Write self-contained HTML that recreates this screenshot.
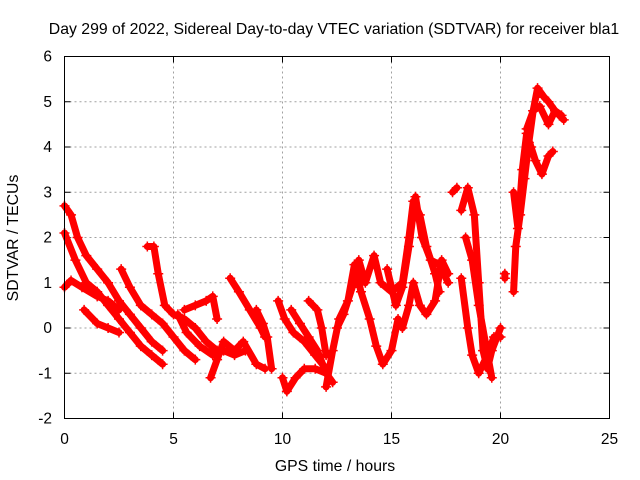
<!DOCTYPE html>
<html><head><meta charset="utf-8"><style>
body{margin:0;background:#fff}
svg{display:block;font-family:"Liberation Sans",sans-serif}
</style></head><body>
<svg id="chart" width="640" height="480" viewBox="0 0 640 480">
<text x="334" y="34" font-size="15.8" text-anchor="middle">Day 299 of 2022, Sidereal Day-to-day VTEC variation (SDTVAR) for receiver bla1</text>
<text x="335" y="471" font-size="15.8" text-anchor="middle">GPS time / hours</text>
<text transform="translate(18,238) rotate(-90)" font-size="15.8" text-anchor="middle">SDTVAR / TECUs</text>
<g id="grid"></g><g id="ticks"></g><g id="marks"></g>
<rect x="64.5" y="56.5" width="545" height="362" fill="none" stroke="#000" stroke-width="1"/>
</svg>
<script>
const xTicks=[0,5,10,15,20,25];
const yTicks=[-2,-1,0,1,2,3,4,5,6];
const traceA=[[0,2.7],[0.3,2.5],[0.6,2.0],[1,1.6],[1.5,1.3],[2,1.0],[2.5,0.6],[3,0.3],[3.5,0.0],[4,-0.3],[4.5,-0.5]];
const traceB=[[0,2.1],[0.5,1.5],[1,1.0],[1.5,0.8],[2,0.5],[2.5,0.2],[3,-0.1],[3.5,-0.4],[4,-0.6],[4.5,-0.8]];
const traceC=[[0,0.9],[0.3,1.05],[0.8,0.9],[1.5,0.7],[2,0.6],[2.5,0.4]];
const traceD=[[0.9,0.4],[1.5,0.1],[2,0],[2.5,-0.1]];
const traceE=[[2.6,1.3],[3,0.9],[3.5,0.5],[4,0.3],[4.5,0.1],[5,-0.2],[5.5,-0.5],[6,-0.7]];
const traceF=[[3.8,1.8],[4.1,1.8],[4.3,1.2],[4.6,0.5],[5,0.3],[5.5,0.2],[6,0.0],[6.5,-0.3],[7,-0.5]];
const traceG=[[5.2,0.3],[5.6,-0.1],[6.2,-0.4],[6.8,-0.6],[7.3,-0.5],[7.8,-0.6],[8.3,-0.5]];
const traceH=[[5.5,0.4],[6,0.5],[6.5,0.6],[6.8,0.7],[7,0.2]];
const traceI=[[7.6,1.1],[8,0.8],[8.5,0.4],[9,0.0],[9.2,-0.2]];
const traceJ=[[6.7,-1.1],[7,-0.7],[7.3,-0.3],[7.8,-0.5],[8.2,-0.3],[8.8,-0.8],[9.2,-0.9]];
const traceK=[[8.8,0.4],[9.1,0.1],[9.3,-0.2],[9.5,-0.9]];
const traceL=[[9.8,0.6],[10.1,0.2],[10.5,-0.1],[11,-0.3],[11.5,-0.6],[12,-0.9]];
const traceM=[[10,-1.1],[10.2,-1.4],[10.6,-1.1],[11,-0.9],[11.5,-0.9],[12,-1.0],[12.3,-1.2]];
const traceN=[[10.4,0.4],[10.8,0.1],[11.2,-0.2],[11.6,-0.5],[12.0,-1.0]];
const traceO=[[11.2,0.6],[11.6,0.4],[11.8,0.0],[12,-0.6]];
const traceP=[[12,-1.3],[12.3,-0.5],[12.6,0.2],[13,0.6],[13.3,1.4],[13.6,0.8],[14,0.2],[14.3,-0.4],[14.6,-0.8],[15,-0.5],[15.3,0.2]];
const traceQ=[[12.5,0.0],[12.8,0.3],[13.2,0.9],[13.5,1.5],[13.8,1.0],[14.2,1.6],[14.5,1.0],[15,0.8],[15.5,1.0],[15.8,2.0],[16,2.8],[16.3,2.5],[16.6,1.8],[17,1.2],[17.2,0.8]];
const traceR=[[14.8,1.3],[15.2,0.5],[15.5,0.9],[15.8,1.8],[16.1,2.9],[16.4,2.0],[16.8,1.5],[17.2,1.4],[17.6,1.0]];
const traceS=[[15.5,0.0],[15.8,0.5],[16,1.0],[16.3,0.5],[16.6,0.3],[17,0.6],[17.3,1.5],[17.6,1.2]];
const traceT=[[17.8,3.0],[18,3.1]];
const traceU=[[18.2,1.1],[18.5,0.0],[18.7,-0.6],[19,-1.0],[19.4,-0.6],[19.7,-0.2],[20,-0.2]];
const traceV=[[18.2,2.6],[18.5,3.1],[18.8,2.5],[19,1.0],[19.2,-0.5],[19.4,-0.9],[19.6,-0.5],[20,0.0]];
const traceW=[[18.4,2.0],[18.7,1.5],[19,0.5],[19.3,-0.3],[19.6,-1.1]];
const traceX=[[20.2,1.2],[20.2,1.1]];
const traceY=[[20.6,0.8],[20.7,1.8],[20.9,2.5],[21.1,3.3],[21.3,4.1],[21.5,4.8],[21.7,5.3],[22,5.1],[22.2,5.0],[22.5,4.8],[22.8,4.7]];
const traceZ=[[20.6,3.0],[20.8,2.2],[21,3.5],[21.2,4.3],[21.4,4.0],[21.6,3.7],[21.9,3.4],[22.2,3.8],[22.4,3.9]];
const traceAA=[[21.2,4.4],[21.5,4.8],[21.8,4.9],[22.2,4.5],[22.5,4.8],[22.9,4.6]];
const traces=[traceA,traceB,traceC,traceD,traceE,traceF,traceG,traceH,traceI,traceJ,traceK,traceL,traceM,traceN,traceO,traceP,traceQ,traceR,traceS,traceT,traceU,traceV,traceW,traceX,traceY,traceZ,traceAA];

const NS="http://www.w3.org/2000/svg";
const X0=64.5,X1=609.5,Y0=418.5,Y1=56.5;
function sx(v){return X0+(v-0)/(25-0)*(X1-X0);}
function sy(v){return Y0-(v+2)/8*(Y0-Y1);}
function mk(t,a,p){const e=document.createElementNS(NS,t);for(const k in a)e.setAttribute(k,a[k]);p.appendChild(e);return e;}
const grid=document.getElementById('grid'),ticks=document.getElementById('ticks'),marks=document.getElementById('marks');
xTicks.forEach(v=>{
  const x=sx(v);
  if(v>0&&v<25){const g=mk('line',{x1:x,x2:x,y1:Y1,y2:Y0,stroke:'#a0a0a0','stroke-dasharray':'2,3'},grid);
  
  }
  mk('line',{x1:x,x2:x,y1:Y0,y2:Y0-6,stroke:'#000'},ticks);
  mk('line',{x1:x,x2:x,y1:Y1,y2:Y1+6,stroke:'#000'},ticks);
  const t=mk('text',{x:x,y:444,'font-size':15.5,'text-anchor':'middle'},ticks);t.textContent=v;
  
  
});
yTicks.forEach(v=>{
  const y=sy(v);
  if(v>-2&&v<6){const g=mk('line',{x1:X0,x2:X1,y1:y,y2:y,stroke:'#a0a0a0','stroke-dasharray':'2,3'},grid);
  
  }
  mk('line',{x1:X0,x2:X0+6,y1:y,y2:y,stroke:'#000'},ticks);
  mk('line',{x1:X1,x2:X1-6,y1:y,y2:y,stroke:'#000'},ticks);
  const t=mk('text',{x:52,y:y+5,'font-size':15.5,'text-anchor':'end'},ticks);t.textContent=v;
  
  
});
traces.forEach((tr,i)=>{
  const pl=mk('polyline',{points:tr.map(p=>sx(p[0])+','+sy(p[1])).join(' '),fill:'none',stroke:'#f00','stroke-width':7,'stroke-linejoin':'round','stroke-linecap':'round'},marks);
  
  
  tr.forEach(p=>{
    const x=sx(p[0]),y=sy(p[1]);
    const m=mk('path',{d:`M${x-5},${y}H${x+5}M${x},${y-5}V${y+5}`,stroke:'#f00','stroke-width':1.5},marks);
    
    
  });
});
</script>
</body></html>
